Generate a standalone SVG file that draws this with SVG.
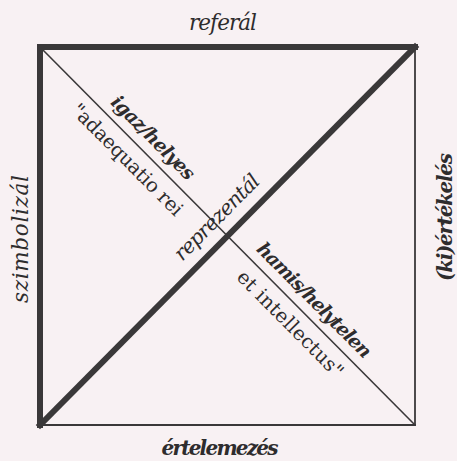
<svg xmlns="http://www.w3.org/2000/svg" width="457" height="461" viewBox="0 0 457 461">
  <style>
    .bg { fill: #f8f1f3; }
    .thick { stroke: #3a3839; stroke-width: 6; stroke-linecap: square; fill: none; }
    .thin { stroke: #3a3839; stroke-width: 1.8; stroke-linecap: square; fill: none; }
    .diag { stroke: #3a3839; stroke-width: 1.6; fill: none; }
    text { font-family: "DejaVu Serif", "Liberation Serif", serif; fill: #2e2c2d; }
    .it { font-style: italic; font-size: 21.5px; }
    .bi { font-style: italic; font-weight: bold; font-size: 20px; }
    .dbi { font-style: italic; font-weight: bold; font-size: 19px; }
    .dit { font-style: italic; font-size: 20.5px; }
    .rg { font-size: 19.5px; }
  </style>
  <rect class="bg" x="0" y="0" width="457" height="461"/>

  <g id="connectors">
    <line class="thin" x1="415" y1="47" x2="415" y2="425"/>
    <line class="thin" x1="40" y1="425" x2="415" y2="425"/>
    <line class="diag" x1="40" y1="47" x2="415" y2="425"/>
    <line class="thick" x1="40" y1="47" x2="415" y2="47"/>
    <line class="thick" x1="40" y1="47" x2="40" y2="425"/>
    <line class="thick" x1="40" y1="425" x2="415" y2="47"/>
  </g>

  <g id="top-label">
    <text class="it" x="223" y="30" text-anchor="middle" textLength="68">referál</text>
  </g>
  <g id="bottom-label">
    <text class="bi" x="220" y="455" text-anchor="middle" textLength="117">értelemezés</text>
  </g>
  <g id="left-label">
    <text class="it" transform="translate(28,239) rotate(-90)" text-anchor="middle" textLength="128">szimbolizál</text>
  </g>
  <g id="right-label">
    <text class="bi" transform="translate(452,217) rotate(-90)" text-anchor="middle" textLength="128">(ki)értékelés</text>
  </g>

  <g id="thin-diagonal-labels" transform="translate(40,47) rotate(45.23)">
    <text class="dbi" x="89" y="-10" textLength="110">igaz/helyes</text>
    <text class="dbi" x="296" y="-10" textLength="154">hamis/helytelen</text>
    <text class="rg" x="67" y="24" textLength="149">"adaequatio rei</text>
    <text class="rg" x="302" y="24" textLength="142">et intellectus"</text>
  </g>

  <g id="thick-diagonal-label" transform="translate(40,425) rotate(-45.23)">
    <text class="dit" x="216" y="-14" textLength="112">reprezentál</text>
  </g>
</svg>
